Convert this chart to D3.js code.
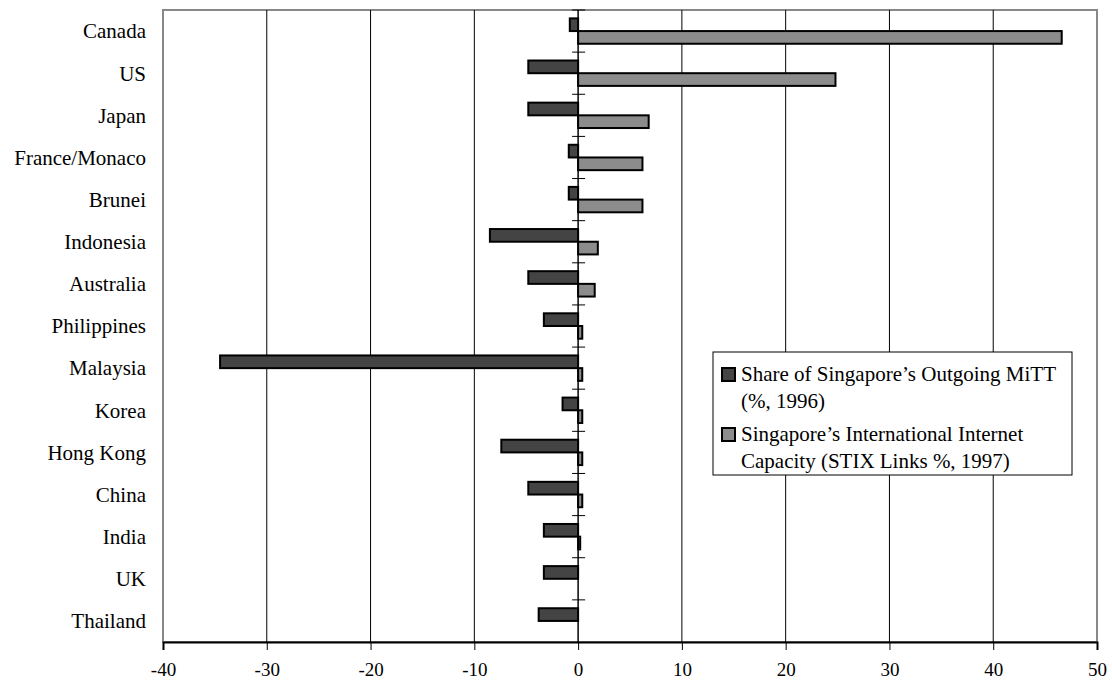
<!DOCTYPE html>
<html lang="en">
<head>
<meta charset="utf-8">
<title>Singapore MiTT vs Internet capacity</title>
<script src="https://cdn.jsdelivr.net/npm/d3@7/dist/d3.min.js"></script>
<style>
  body { margin: 0; background: #fff; }
  svg text { font-family: "Liberation Serif", "Times New Roman", serif; fill: #000; }
</style>
</head>
<body>
<script>
var countries = ["Canada", "US", "Japan", "France/Monaco", "Brunei", "Indonesia", "Australia",
  "Philippines", "Malaysia", "Korea", "Hong Kong", "China", "India", "UK", "Thailand"];
var mitt1996 = [-0.8, -4.8, -4.8, -0.9, -0.9, -8.5, -4.8, -3.3, -34.5, -1.5, -7.4, -4.8, -3.3, -3.3, -3.8];
var stix1997 = [46.6, 24.8, 6.8, 6.2, 6.2, 1.9, 1.6, 0.4, 0.4, 0.4, 0.4, 0.4, 0.2, 0, 0];
var xTicks = [-40, -30, -20, -10, 0, 10, 20, 30, 40, 50];
var seriesNames = [
  ["Share of Singapore\u2019s Outgoing MiTT", "(%, 1996)"],
  ["Singapore\u2019s International Internet", "Capacity (STIX Links %, 1997)"]
];
var colors = ["#444444", "#8c8c8c"];

var w = 1112, h = 690;
var plotL = 163, plotR = 1097, plotT = 10, plotB = 642;

var svg = d3.select("body").append("svg").attr("width", w).attr("height", h);

var x = d3.scaleLinear().domain([-40, 50]).range([plotL, plotR]);
var y = d3.scaleBand().domain(countries).range([plotT, plotB]).paddingInner(0).paddingOuter(0);
var inner = d3.scaleBand().domain([0, 1]).range([0, y.bandwidth()]).paddingInner(0).paddingOuter(0.66);

// plot frame
svg.append("rect")
  .attr("x", plotL).attr("y", plotT)
  .attr("width", plotR - plotL).attr("height", plotB - plotT)
  .attr("fill", "none").attr("stroke", "#888").attr("stroke-width", 2);

// vertical grid
svg.append("g").selectAll("line")
  .data(xTicks.filter(function (d) { return d > -40 && d < 50; }))
  .enter().append("line")
  .attr("x1", function (d) { return x(d); }).attr("x2", function (d) { return x(d); })
  .attr("y1", plotT).attr("y2", plotB)
  .attr("stroke", "#000").attr("stroke-width", 1);

// bars
var data = [];
countries.forEach(function (c, i) {
  data.push({ c: c, s: 0, v: mitt1996[i] });
  data.push({ c: c, s: 1, v: stix1997[i] });
});
svg.append("g").selectAll("rect")
  .data(data.filter(function (d) { return d.v !== 0; }))
  .enter().append("rect")
  .attr("x", function (d) { return Math.min(x(0), x(d.v)); })
  .attr("y", function (d) { return y(d.c) + inner(d.s); })
  .attr("width", function (d) { return Math.abs(x(d.v) - x(0)); })
  .attr("height", inner.bandwidth())
  .attr("fill", function (d) { return colors[d.s]; })
  .attr("stroke", "#000").attr("stroke-width", 2);

// category axis at zero with cross ticks
var cat = svg.append("g");
cat.append("line")
  .attr("x1", x(0)).attr("x2", x(0)).attr("y1", plotT).attr("y2", plotB)
  .attr("stroke", "#000").attr("stroke-width", 1);
cat.selectAll("line.tk")
  .data(countries)
  .enter().append("line").attr("class", "tk")
  .attr("x1", x(0) - 6).attr("x2", x(0) + 7)
  .attr("y1", function (d) { return y(d); }).attr("y2", function (d) { return y(d); })
  .attr("stroke", "#000").attr("stroke-width", 1);

// category labels
svg.append("g").selectAll("text")
  .data(countries)
  .enter().append("text")
  .attr("x", 146)
  .attr("y", function (d) { return y(d) + y.bandwidth() / 2; })
  .attr("dy", "0.35em")
  .attr("text-anchor", "end")
  .attr("font-size", 21)
  .text(function (d) { return d; });

// bottom value axis
var xAxis = svg.append("g")
  .attr("transform", "translate(0," + plotB + ")")
  .call(d3.axisBottom(x).tickValues(xTicks).tickSize(8).tickPadding(13)
    .tickFormat(function (d) { return String(d); }));
xAxis.select(".domain").attr("stroke", "#000").attr("stroke-width", 2);
xAxis.selectAll(".tick line").attr("stroke", "#000");
xAxis.selectAll("text").attr("font-size", 19).attr("font-family", "Liberation Serif, serif");

// legend
var lg = svg.append("g").attr("transform", "translate(713,352)");
lg.append("rect").attr("width", 359).attr("height", 123)
  .attr("fill", "#fff").attr("stroke", "#000").attr("stroke-width", 1);
seriesNames.forEach(function (lines, i) {
  var yy = 20 + i * 60;
  lg.append("rect")
    .attr("x", 9).attr("y", yy - 4).attr("width", 13).attr("height", 13)
    .attr("fill", colors[i]).attr("stroke", "#000").attr("stroke-width", 2);
  lines.forEach(function (t, j) {
    lg.append("text")
      .attr("x", 28).attr("y", yy + 9 + j * 27)
      .attr("font-size", 21)
      .text(t);
  });
});
</script>
</body>
</html>
